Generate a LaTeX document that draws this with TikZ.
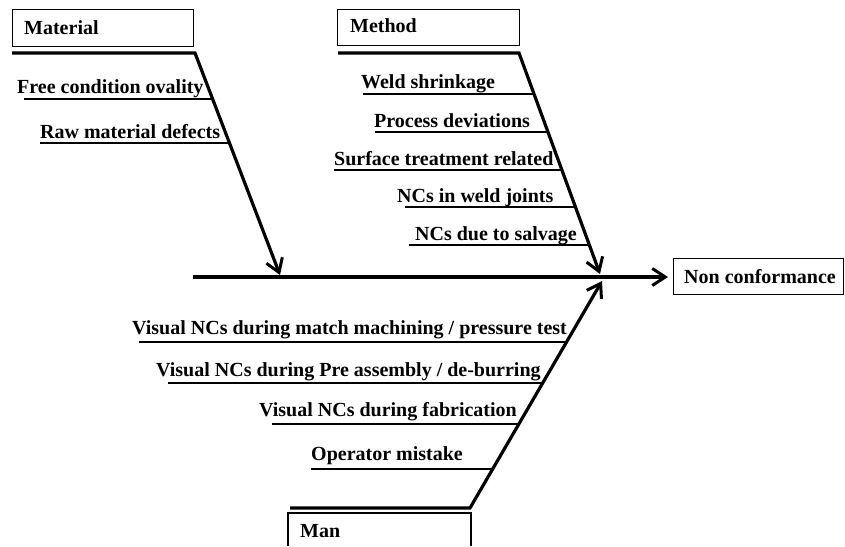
\documentclass[tikz,border=0pt]{standalone}
\usepackage{fontspec}
\setmainfont{Liberation Serif}
\usetikzlibrary{arrows.meta}
\begin{document}
\begin{tikzpicture}[x=1pt,y=-1pt,
  spine/.style={line width=3.2pt,line join=miter},
  sub/.style={line width=2.4pt},
  tip/.style={-{Straight Barb[length=13pt,width=17pt,line width=3pt]}},
  catbox/.style={draw,line width=1.1pt},
  lbl/.style={anchor=base west,inner sep=0pt,font=\fontsize{20}{24}\selectfont\bfseries}]
\useasboundingbox (0,0) rectangle (845,546);
% category boxes
\node[catbox,minimum width=181pt,minimum height=37pt,anchor=north west] (matbox) at (12,9) {};
\node[lbl] (matlbl) at (24,34) {Material};
\node[catbox,minimum width=182pt,minimum height=36pt,anchor=north west] (metbox) at (337,9) {};
\node[lbl] (metlbl) at (350,32) {Method};
\node[catbox,minimum width=170pt,minimum height=36pt,anchor=north west] (ncbox) at (673,258) {};
\node[lbl] (nclbl) at (684,283) {Non conformance};
\coordinate (manA) at (288,546);
\coordinate (manB) at (288,513);
\coordinate (manC) at (471,513);
\coordinate (manD) at (471,546);
\draw[line width=1.1pt] (manA) -- (manB) -- (manC) -- (manD);
\node[lbl] (manlbl) at (300,537) {Man};
% main spine
\coordinate (m0) at (193,277);
\coordinate (m1) at (668,277);
\draw[spine,tip] (m0) -- (m1);
% Material branch
\coordinate (a0) at (12,53);
\coordinate (a1) at (195,53);
\coordinate (a2) at (280,275);
\draw[spine,tip] (a0) -- (a1) -- (a2);
\coordinate (a3) at (24,99); \coordinate (a4) at (213,99);
\coordinate (a5) at (40,143); \coordinate (a6) at (230,143);
\draw[sub] (a3) -- (a4);
\draw[sub] (a5) -- (a6);
\node[lbl] (fco) at (17,93) {Free condition ovality};
\node[lbl] (rmd) at (40,138) {Raw material defects};
% Method branch
\coordinate (b0) at (338,53);
\coordinate (b1) at (519,53);
\coordinate (b2) at (600,274);
\draw[spine,tip] (b0) -- (b1) -- (b2);
\coordinate (b3) at (363,94);  \coordinate (b4) at (534,94);
\coordinate (b5) at (375,132); \coordinate (b6) at (548,132);
\coordinate (b7) at (334,170); \coordinate (b8) at (561,170);
\coordinate (b9) at (405,207); \coordinate (b10) at (575,207);
\coordinate (b11) at (409,245); \coordinate (b12) at (589,245);
\draw[sub] (b3) -- (b4);
\draw[sub] (b5) -- (b6);
\draw[sub] (b7) -- (b8);
\draw[sub] (b9) -- (b10);
\draw[sub] (b11) -- (b12);
\node[lbl] (ws) at (361,88) {Weld shrinkage};
\node[lbl] (pd) at (374,127) {Process deviations};
\node[lbl] (st) at (334,165) {Surface treatment related};
\node[lbl] (wj) at (397,202) {NCs in weld joints};
\node[lbl] (sa) at (415,240) {NCs due to salvage};
% Man branch
\coordinate (c0) at (290,508);
\coordinate (c1) at (470,508);
\coordinate (c2) at (602,281);
\draw[spine,tip] (c0) -- (c1) -- (c2);
\coordinate (c3) at (139,342); \coordinate (c4) at (566,342);
\coordinate (c5) at (168,383); \coordinate (c6) at (542,383);
\coordinate (c7) at (272,424); \coordinate (c8) at (518,424);
\coordinate (c9) at (311,469); \coordinate (c10) at (492,469);
\draw[sub] (c3) -- (c4);
\draw[sub] (c5) -- (c6);
\draw[sub] (c7) -- (c8);
\draw[sub] (c9) -- (c10);
\node[lbl] (vm) at (132,334) {Visual NCs during match machining / pressure test};
\node[lbl] (vp) at (156,376) {Visual NCs during Pre assembly / de-burring};
\node[lbl] (vf) at (259,416) {Visual NCs during fabrication};
\node[lbl] (om) at (311,460) {Operator mistake};
\end{tikzpicture}
\end{document}
